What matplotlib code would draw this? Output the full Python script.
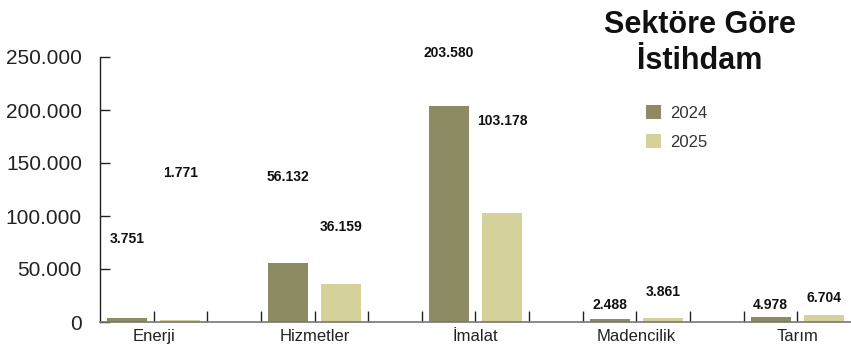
import matplotlib
matplotlib.use("Agg")
import matplotlib.pyplot as plt
from matplotlib.ticker import FuncFormatter

plt.rcParams["font.family"] = ["Liberation Sans", "DejaVu Sans"]

# Employment by sector
sectors = ["Enerji", "Hizmetler", "İmalat", "Madencilik", "Tarım"]
years = ["2024", "2025"]
values_2024 = [3751, 56132, 203580, 2488, 4978]
values_2025 = [1771, 36159, 103178, 3861, 6704]

# Heights at which the value labels sit (layout)
label_y_2024 = [78000, 137000, 254000, 16000, 16000]
label_y_2025 = [141000, 90000, 190000, 28500, 23000]

colors = ["#8d8b63", "#d4d19b"]

fig = plt.figure(figsize=(8.51, 3.47), dpi=100)
ax = fig.add_axes([100 / 851, 25 / 347, 751 / 851, 265 / 347])

# Each sector takes three slots: 2024, 2025 and a spacer
x24 = [3 * i for i in range(len(sectors))]
x25 = [3 * i + 1 for i in range(len(sectors))]
w = 40 / 53.6

b24 = ax.bar(x24, values_2024, width=w, color=colors[0], label=years[0])
b25 = ax.bar(x25, values_2025, width=w, color=colors[1], label=years[1])

lab_kw = dict(ha="center", va="center", fontsize=10, fontweight="bold", color="#111111")
for xi, v, ly in zip(x24, values_2024, label_y_2024):
    ax.text(xi, ly, f"{v:,}".replace(",", "."), clip_on=False, **lab_kw)
for xi, v, ly in zip(x25, values_2025, label_y_2025):
    ax.text(xi, ly, f"{v:,}".replace(",", "."), clip_on=False, **lab_kw)

ax.set_xlim(-0.5, 13.5)
ax.set_ylim(0, 250000)

for s in ["top", "right"]:
    ax.spines[s].set_visible(False)
ax.spines["bottom"].set_color("#777777")
ax.spines["bottom"].set_linewidth(1.2)
ax.spines["left"].set_color("#222222")
ax.spines["left"].set_linewidth(1.0)

# slot boundary ticks; sector names sit on the tick between each pair
tick_pos = [i + 0.5 for i in range(13)]
tick_lab = ["" for _ in tick_pos]
for i, name in enumerate(sectors):
    tick_lab[3 * i] = name
ax.set_xticks(tick_pos)
ax.set_xticklabels(tick_lab, fontsize=12, color="#222222")
ax.tick_params(axis="x", direction="in", length=8, width=1, color="#222222", pad=5)

ax.set_yticks(range(0, 250001, 50000))
ax.yaxis.set_major_formatter(FuncFormatter(lambda v, p: f"{int(v):,}".replace(",", ".")))
ax.tick_params(axis="y", direction="in", length=7, width=1, color="#222222",
               labelsize=15, labelcolor="#222222", pad=13)

fig.text(700 / 851, 1 - 43 / 347, "Sektöre Göre\nİstihdam", ha="center", va="center",
         fontsize=22, fontweight="bold", color="#111111", linespacing=1.3)

ax.legend(handles=[b24, b25], loc="upper left", bbox_to_anchor=(633 / 851, 1 - 92 / 347),
          bbox_transform=fig.transFigure, frameon=False, fontsize=12,
          handlelength=0.9, handleheight=0.9, handletextpad=0.55, labelspacing=0.8,
          labelcolor="#333333", borderpad=0.3)

fig.savefig("out.png", dpi=100)
